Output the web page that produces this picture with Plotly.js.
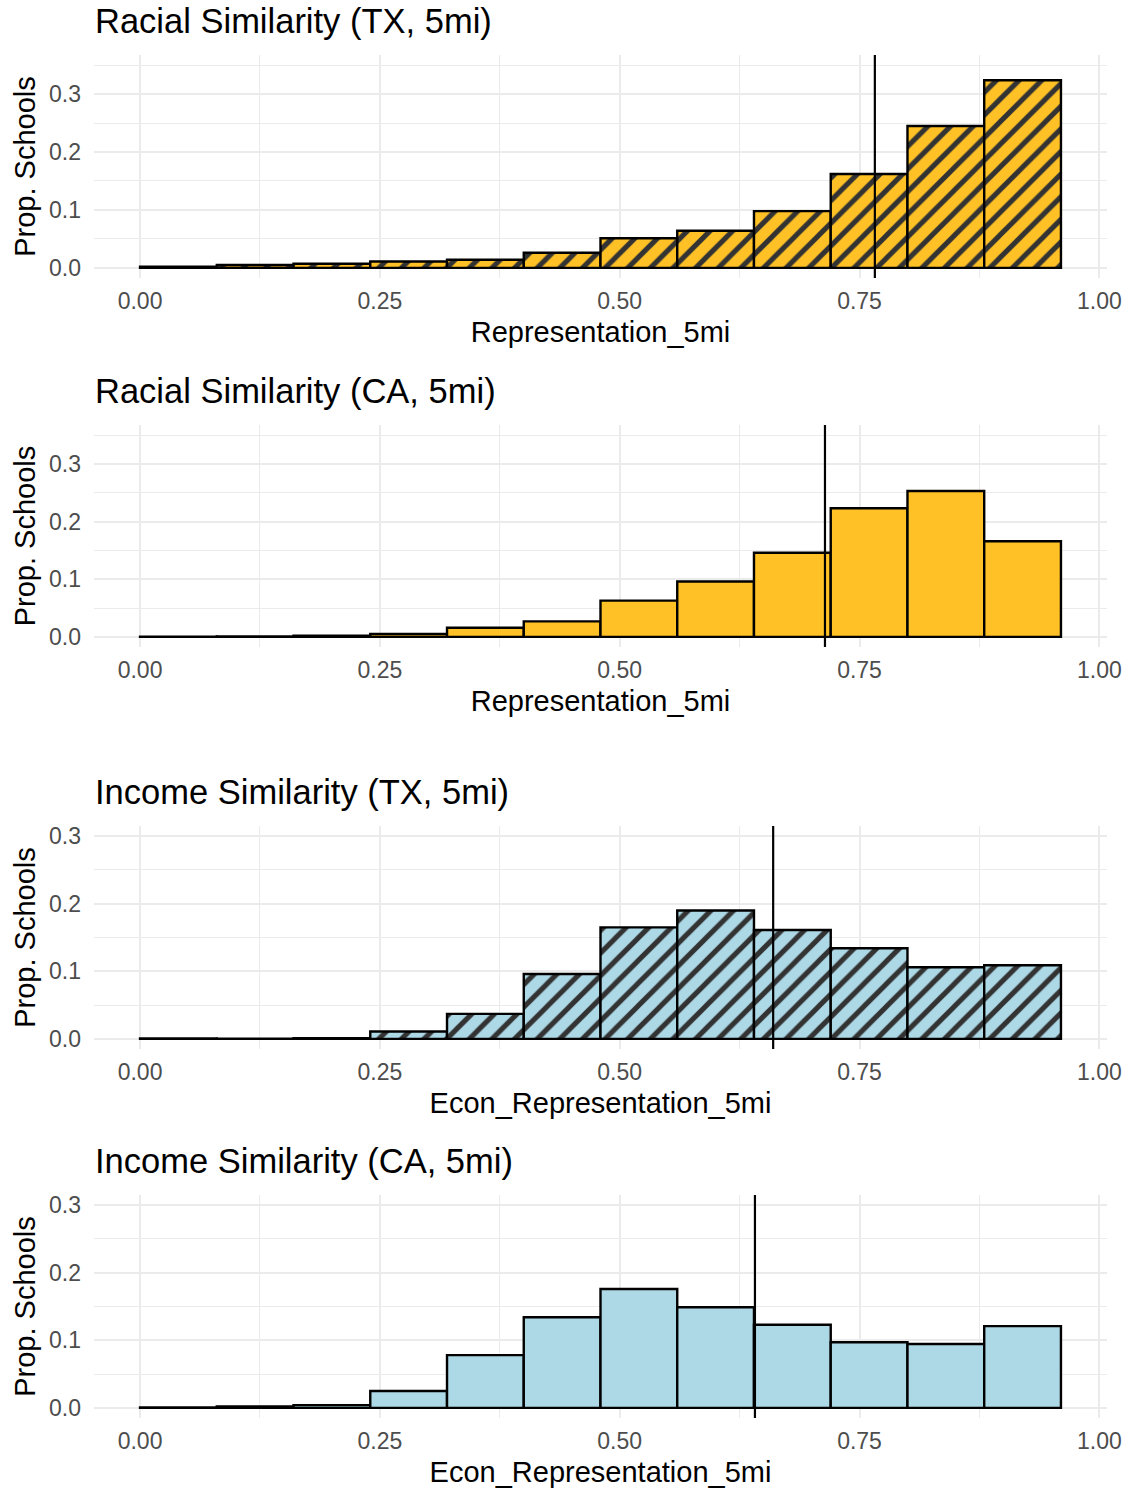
<!DOCTYPE html>
<html>
<head>
<meta charset="utf-8">
<script src="https://cdn.plot.ly/plotly-3.0.1.min.js"></script>
<style>
  html, body { margin: 0; padding: 0; background: #ffffff; }
  #chart { width: 1129px; height: 1492px; }
</style>
</head>
<body>
<div id="chart"></div>
<script>
// ---- Data ----
var binCenters = [0.04, 0.12, 0.20, 0.28, 0.36, 0.44, 0.52, 0.60, 0.68, 0.76, 0.84, 0.92];
var binWidth = 0.08;

var raceTX   = [0.002, 0.005, 0.007, 0.011, 0.014, 0.026, 0.051, 0.064, 0.098, 0.162, 0.245, 0.324];
var raceCA   = [0.0005, 0.0007, 0.002, 0.005, 0.016, 0.027, 0.063, 0.096, 0.146, 0.223, 0.253, 0.166];
var incomeTX = [0.0005, 0.0003, 0.001, 0.011, 0.037, 0.096, 0.165, 0.190, 0.161, 0.134, 0.106, 0.109];
var incomeCA = [0.0005, 0.002, 0.004, 0.025, 0.078, 0.134, 0.176, 0.149, 0.123, 0.097, 0.0945, 0.121];

var meanValues = [0.766, 0.714, 0.660, 0.641];

var panelTitles = ["Racial Similarity (TX, 5mi)", "Racial Similarity (CA, 5mi)",
                   "Income Similarity (TX, 5mi)", "Income Similarity (CA, 5mi)"];
var xTitles = ["Representation_5mi", "Representation_5mi",
               "Econ_Representation_5mi", "Econ_Representation_5mi"];
var yTitle = "Prop. Schools";
var xTickVals = [0, 0.25, 0.5, 0.75, 1.0];
var xTickText = ["0.00", "0.25", "0.50", "0.75", "1.00"];
var yTickVals = [0, 0.1, 0.2, 0.3];
var yTickText = ["0.0", "0.1", "0.2", "0.3"];

(function () {
  var YELLOW = "#FFC125";
  var BLUE = "#ADD8E6";
  var series = [raceTX, raceCA, incomeTX, incomeCA];
  var fills = [YELLOW, YELLOW, BLUE, BLUE];
  var hatched = [true, false, true, false];
  var yRanges = [[-0.0175, 0.3675], [-0.0175, 0.3675], [-0.015, 0.315], [-0.015, 0.315]];

  var H = 1492, W = 1129;
  var panelPx = [[55, 278], [425, 647], [826, 1049], [1195, 1418]];
  var xDom = [94 / W, 1107 / W];
  var titleY = [21, 391, 792, 1161];

  var traces = [];
  var layout = {
    width: W, height: H,
    margin: {l: 0, r: 0, t: 0, b: 0},
    paper_bgcolor: "#ffffff",
    plot_bgcolor: "#ffffff",
    showlegend: false,
    font: {family: "Liberation Sans, Arial, sans-serif", color: "#000000"},
    bargap: 0,
    annotations: [],
    shapes: []
  };

  for (var i = 0; i < 4; i++) {
    var sfx = i === 0 ? "" : String(i + 1);
    var tr = {
      type: "bar",
      x: binCenters,
      y: series[i],
      width: binWidth,
      xaxis: "x" + sfx,
      yaxis: "y" + sfx,
      marker: {
        color: fills[i],
        line: {color: "#000000", width: 2.4}
      },
      hoverinfo: "x+y"
    };
    if (hatched[i]) {
      tr.marker.pattern = {shape: "/", fgcolor: "#333333", bgcolor: fills[i],
                           size: 16, solidity: 0.32, fillmode: "replace"};
    }
    traces.push(tr);

    var pTop = panelPx[i][0], pBot = panelPx[i][1];
    layout["xaxis" + sfx] = {
      domain: xDom,
      anchor: "y" + sfx,
      range: [-0.048, 1.008],
      tickvals: xTickVals,
      ticktext: xTickText,
      tickfont: {size: 23, color: "#4D4D4D"},
      ticks: "",
      ticklabelstandoff: 7,
      showgrid: true,
      gridcolor: "#EBEBEB",
      gridwidth: 2,
      minor: {dtick: 0.125, tick0: 0, showgrid: true, gridcolor: "#EBEBEB", gridwidth: 1},
      zeroline: false,
      showline: false,
      fixedrange: true,
      title: {text: xTitles[i], font: {size: 29, color: "#000000"}, standoff: 8}
    };
    layout["yaxis" + sfx] = {
      domain: [1 - pBot / H, 1 - pTop / H],
      anchor: "x" + sfx,
      range: yRanges[i],
      tickvals: yTickVals,
      ticktext: yTickText,
      tickfont: {size: 23, color: "#4D4D4D"},
      ticks: "",
      ticklabelstandoff: 12,
      showgrid: true,
      gridcolor: "#EBEBEB",
      gridwidth: 2,
      minor: {dtick: 0.05, tick0: 0, showgrid: true, gridcolor: "#EBEBEB", gridwidth: 1},
      zeroline: false,
      showline: false,
      fixedrange: true,
      title: {text: yTitle, font: {size: 29, color: "#000000"}, standoff: 4}
    };

    layout.shapes.push({
      type: "line",
      xref: "x" + sfx, yref: "y" + sfx + " domain",
      x0: meanValues[i], x1: meanValues[i], y0: 0, y1: 1,
      line: {color: "#000000", width: 2.2},
      layer: "above"
    });

    layout.annotations.push({
      text: panelTitles[i],
      xref: "paper", yref: "paper",
      x: 93 / W, y: 1 - titleY[i] / H,
      xanchor: "left", yanchor: "middle",
      showarrow: false,
      font: {size: 34.5, color: "#000000"}
    });
  }

  Plotly.newPlot("chart", traces, layout, {displayModeBar: false, staticPlot: true});
})();
</script>
</body>
</html>
